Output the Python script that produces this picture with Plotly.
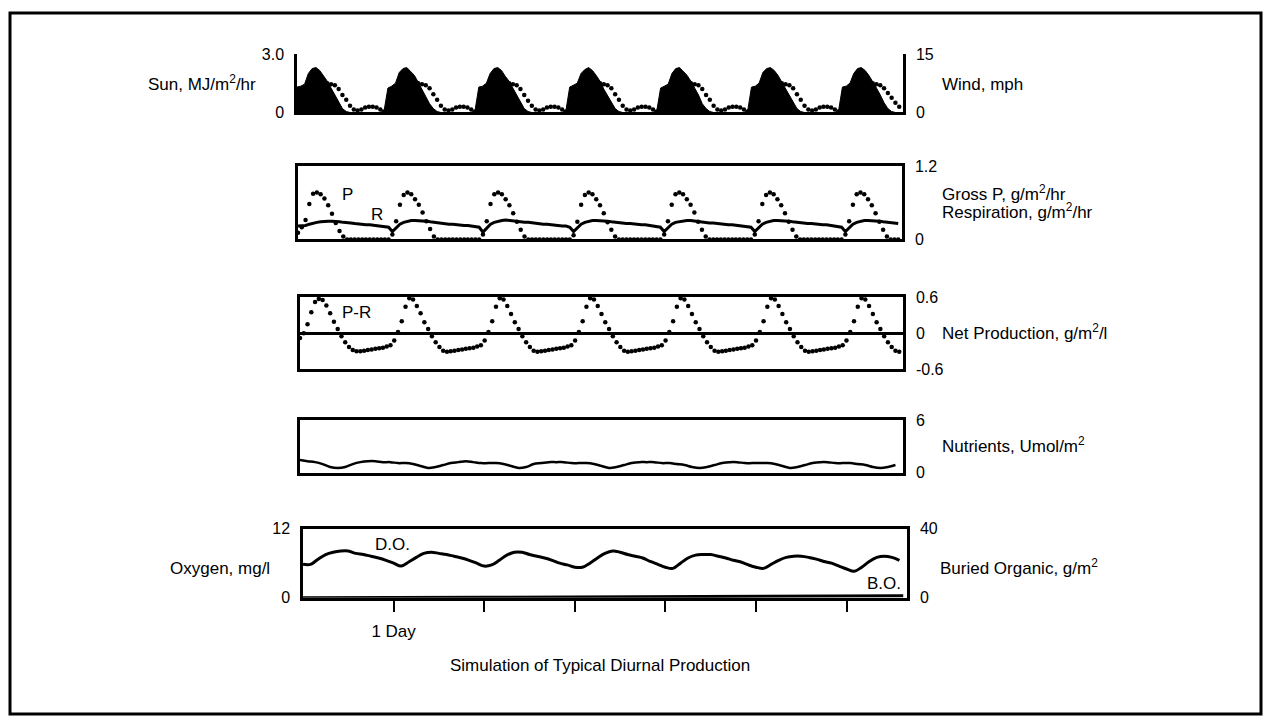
import plotly.graph_objects as go

# ---------------- data (hourly unless noted) ----------------
hours = list(range(160))

sun = [
    1.30, 1.35, 1.45, 2.00, 2.25, 2.30, 2.15, 1.90, 1.60, 1.25, 0.90, 0.50, 0.20, 0.05, 0, 0, 0, 0, 0, 0, 0, 0, 0, 0.10,
    1.25, 1.35, 1.50, 2.05, 2.25, 2.30, 2.10, 1.90, 1.55, 1.20, 0.85, 0.45, 0.20, 0.05, 0, 0, 0, 0, 0, 0, 0, 0, 0, 0.10,
    1.30, 1.35, 1.50, 2.00, 2.25, 2.30, 2.15, 1.85, 1.60, 1.25, 0.90, 0.50, 0.20, 0.05, 0, 0, 0, 0, 0, 0, 0, 0, 0, 0.10,
    1.30, 1.40, 1.50, 2.00, 2.20, 2.30, 2.15, 1.90, 1.60, 1.20, 0.85, 0.50, 0.20, 0.05, 0, 0, 0, 0, 0, 0, 0, 0, 0, 0.10,
    1.25, 1.35, 1.45, 2.00, 2.25, 2.30, 2.10, 1.90, 1.60, 1.25, 0.90, 0.45, 0.20, 0.05, 0, 0, 0, 0, 0, 0, 0, 0, 0, 0.10,
    1.30, 1.35, 1.50, 2.05, 2.25, 2.30, 2.15, 1.90, 1.55, 1.25, 0.85, 0.50, 0.20, 0.05, 0, 0, 0, 0, 0, 0, 0, 0, 0, 0.10,
    1.30, 1.35, 1.50, 2.00, 2.25, 2.30, 2.15, 1.90, 1.60, 1.25, 0.90, 0.50, 0.20, 0.05, 0, 0,
]

wind = [
    0.75, 2.0, 3.5, 5.0, 6.0, 6.75, 7.25, 7.5, 7.5, 7.25, 7.0, 6.0, 4.5, 3.25, 1.75, 0.75, 0.5, 0.75, 1.25, 1.5, 1.5, 1.25, 0.75, 0.25,
    0.75, 2.0, 3.5, 5.0, 6.0, 6.75, 7.25, 7.5, 7.5, 7.25, 7.0, 6.2, 4.7, 3.25, 1.75, 0.75, 0.5, 0.75, 1.25, 1.5, 1.5, 1.25, 0.75, 0.25,
    0.75, 2.0, 3.5, 5.0, 6.0, 6.75, 7.25, 7.5, 7.5, 7.25, 7.0, 6.0, 4.5, 3.0, 1.75, 0.75, 0.5, 0.75, 1.25, 1.5, 1.5, 1.25, 0.75, 0.25,
    0.75, 2.0, 3.5, 5.0, 6.0, 6.75, 7.25, 7.5, 7.5, 7.25, 7.0, 6.2, 4.7, 3.25, 1.75, 0.75, 0.5, 0.75, 1.25, 1.5, 1.5, 1.25, 0.75, 0.25,
    0.75, 2.0, 3.5, 5.0, 6.0, 6.75, 7.25, 7.5, 7.5, 7.25, 7.0, 6.0, 4.5, 3.25, 1.75, 0.75, 0.5, 0.75, 1.25, 1.5, 1.5, 1.25, 0.75, 0.25,
    0.75, 2.0, 3.5, 5.0, 6.0, 6.75, 7.25, 7.5, 7.5, 7.25, 7.0, 6.2, 4.7, 3.25, 1.75, 0.75, 0.5, 0.75, 1.25, 1.5, 1.5, 1.25, 0.75, 0.25,
    0.75, 2.0, 3.5, 5.0, 6.0, 6.75, 7.25, 7.5, 7.5, 7.25, 7.0, 6.2, 5.0, 3.75, 2.5, 1.5,
]

gross_p = [
    0.11, 0.20, 0.32, 0.58, 0.75, 0.77, 0.74, 0.67, 0.56, 0.42, 0.27, 0.14, 0.05, 0, 0, 0, 0, 0, 0, 0, 0, 0, 0, 0,
    0.00, 0.08, 0.30, 0.57, 0.73, 0.77, 0.74, 0.66, 0.57, 0.44, 0.30, 0.17, 0.05, 0, 0, 0, 0, 0, 0, 0, 0, 0, 0, 0,
    0.00, 0.08, 0.30, 0.58, 0.74, 0.77, 0.74, 0.66, 0.56, 0.43, 0.29, 0.16, 0.05, 0, 0, 0, 0, 0, 0, 0, 0, 0, 0, 0,
    0.00, 0.07, 0.29, 0.57, 0.73, 0.77, 0.74, 0.66, 0.56, 0.43, 0.28, 0.16, 0.05, 0, 0, 0, 0, 0, 0, 0, 0, 0, 0, 0,
    0.00, 0.08, 0.30, 0.57, 0.74, 0.77, 0.74, 0.66, 0.57, 0.44, 0.29, 0.16, 0.05, 0, 0, 0, 0, 0, 0, 0, 0, 0, 0, 0,
    0.00, 0.08, 0.30, 0.58, 0.73, 0.77, 0.74, 0.66, 0.56, 0.43, 0.29, 0.16, 0.05, 0, 0, 0, 0, 0, 0, 0, 0, 0, 0, 0,
    0.00, 0.08, 0.30, 0.57, 0.74, 0.77, 0.74, 0.66, 0.56, 0.43, 0.29, 0.16, 0.05, 0, 0, 0,
]

respiration = [
    0.22, 0.22, 0.23, 0.25, 0.27, 0.28, 0.29, 0.30, 0.30, 0.30, 0.30, 0.29, 0.28, 0.28, 0.27, 0.26, 0.25, 0.25, 0.24, 0.24, 0.23, 0.23, 0.22, 0.21,
    0.20, 0.13, 0.19, 0.25, 0.28, 0.30, 0.31, 0.31, 0.31, 0.30, 0.30, 0.29, 0.28, 0.27, 0.27, 0.26, 0.25, 0.25, 0.24, 0.24, 0.23, 0.23, 0.22, 0.21,
    0.20, 0.12, 0.18, 0.25, 0.28, 0.30, 0.31, 0.32, 0.31, 0.30, 0.30, 0.29, 0.28, 0.28, 0.27, 0.26, 0.26, 0.25, 0.25, 0.24, 0.24, 0.23, 0.22, 0.22,
    0.20, 0.13, 0.19, 0.25, 0.28, 0.30, 0.31, 0.31, 0.31, 0.30, 0.30, 0.29, 0.28, 0.28, 0.27, 0.26, 0.26, 0.25, 0.25, 0.24, 0.24, 0.23, 0.22, 0.22,
    0.20, 0.13, 0.19, 0.25, 0.28, 0.29, 0.31, 0.31, 0.31, 0.30, 0.29, 0.29, 0.28, 0.27, 0.27, 0.26, 0.25, 0.25, 0.24, 0.24, 0.23, 0.23, 0.22, 0.21,
    0.20, 0.13, 0.19, 0.25, 0.28, 0.30, 0.31, 0.31, 0.31, 0.30, 0.30, 0.29, 0.28, 0.28, 0.27, 0.26, 0.26, 0.25, 0.25, 0.24, 0.24, 0.23, 0.22, 0.21,
    0.20, 0.13, 0.19, 0.25, 0.28, 0.30, 0.31, 0.31, 0.31, 0.30, 0.30, 0.29, 0.28, 0.28, 0.27, 0.26,
]

net_production = [
    -0.08, 0.00, 0.15, 0.35, 0.52, 0.57, 0.55, 0.46, 0.33, 0.19, 0.07, -0.05, -0.15, -0.23, -0.28, -0.30, -0.30, -0.29, -0.28, -0.27, -0.26, -0.25, -0.24, -0.22,
    -0.20, -0.12, 0.02, 0.20, 0.44, 0.58, 0.56, 0.45, 0.33, 0.18, 0.07, -0.05, -0.15, -0.23, -0.29, -0.31, -0.30, -0.29, -0.28, -0.27, -0.26, -0.25, -0.24, -0.22,
    -0.20, -0.12, 0.02, 0.20, 0.44, 0.58, 0.56, 0.45, 0.32, 0.18, 0.07, -0.05, -0.15, -0.23, -0.29, -0.31, -0.30, -0.29, -0.28, -0.27, -0.26, -0.25, -0.24, -0.22,
    -0.20, -0.12, 0.02, 0.20, 0.44, 0.58, 0.56, 0.45, 0.32, 0.18, 0.07, -0.05, -0.15, -0.23, -0.29, -0.31, -0.30, -0.29, -0.28, -0.27, -0.26, -0.25, -0.24, -0.22,
    -0.20, -0.12, 0.02, 0.20, 0.44, 0.58, 0.56, 0.45, 0.32, 0.18, 0.07, -0.05, -0.15, -0.23, -0.29, -0.31, -0.30, -0.29, -0.28, -0.27, -0.26, -0.25, -0.24, -0.22,
    -0.20, -0.12, 0.02, 0.20, 0.44, 0.58, 0.56, 0.45, 0.32, 0.18, 0.07, -0.05, -0.15, -0.23, -0.29, -0.31, -0.30, -0.29, -0.28, -0.27, -0.26, -0.25, -0.24, -0.22,
    -0.20, -0.12, 0.02, 0.20, 0.44, 0.58, 0.56, 0.45, 0.32, 0.18, 0.07, -0.05, -0.15, -0.23, -0.29, -0.31,
]

# two-hourly series
hours2 = list(range(0, 160, 2))

nutrients = [
    1.45, 1.33, 1.22, 1.00, 0.67, 0.56, 0.67, 1.00, 1.22, 1.33, 1.33, 1.22,
    1.22, 1.11, 1.11, 1.00, 0.78, 0.56, 0.67, 0.89, 1.11, 1.22, 1.33, 1.22,
    1.11, 1.11, 1.11, 1.00, 0.78, 0.56, 0.67, 1.00, 1.11, 1.22, 1.22, 1.22,
    1.11, 1.11, 1.11, 1.00, 0.78, 0.56, 0.67, 0.89, 1.11, 1.22, 1.22, 1.22,
    1.11, 1.11, 1.00, 0.89, 0.67, 0.56, 0.67, 0.89, 1.11, 1.22, 1.22, 1.11,
    1.11, 1.11, 1.11, 1.00, 0.78, 0.56, 0.67, 0.89, 1.11, 1.22, 1.22, 1.11,
    1.11, 1.11, 1.00, 0.89, 0.67, 0.56, 0.67, 0.89,
]

dissolved_oxygen = [
    5.8, 5.8, 6.7, 7.5, 7.9, 8.1, 8.1, 7.7, 7.5, 7.2, 6.9, 6.5,
    6.0, 5.5, 6.2, 7.0, 7.7, 7.9, 7.7, 7.5, 7.2, 6.9, 6.5, 6.0,
    5.5, 5.7, 6.5, 7.4, 7.9, 7.9, 7.5, 7.2, 6.9, 6.5, 6.0, 5.7,
    5.3, 5.3, 6.0, 6.9, 7.7, 8.1, 7.9, 7.5, 7.2, 6.9, 6.3, 5.8,
    5.3, 5.1, 6.0, 6.9, 7.4, 7.5, 7.5, 7.2, 6.9, 6.5, 6.2, 5.7,
    5.3, 5.1, 5.8, 6.5, 7.0, 7.2, 7.2, 7.0, 6.7, 6.3, 6.0, 5.5,
    5.0, 4.6, 5.3, 6.3, 7.0, 7.2, 7.0, 6.5,
]

bo_hours = [0, 24, 48, 72, 96, 120, 144, 159]
buried_organic = [0.0, 0.0, 0.3, 0.5, 0.7, 0.9, 1.1, 1.2]

# ---------------- layout helpers ----------------
W, H = 1265, 726
FONT = "Liberation Sans, Arial, Helvetica, sans-serif"


def fx(px):
    return px / W


def fy(py):
    return 1 - py / H


# panel pixel boxes: (left, right, top, bottom)
P1 = (297, 903, 47, 107)
P2 = (298, 902, 162, 237)
P3 = (300, 903, 296, 370)
P4 = (300, 903, 422, 476)
P5 = (303, 907, 533, 604)

fig = go.Figure()

fig.add_trace(go.Scatter(x=hours, y=sun, mode="lines", fill="tozeroy",
                         line=dict(color="black", width=1), fillcolor="black",
                         xaxis="x", yaxis="y", showlegend=False))
fig.add_trace(go.Scatter(x=hours, y=wind, mode="markers",
                         marker=dict(color="black", size=4.5),
                         xaxis="x", yaxis="y2", showlegend=False))
fig.add_trace(go.Scatter(x=hours, y=gross_p, mode="markers",
                         marker=dict(color="black", size=4.5),
                         xaxis="x2", yaxis="y3", showlegend=False))
fig.add_trace(go.Scatter(x=hours, y=respiration, mode="lines",
                         line=dict(color="black", width=3),
                         xaxis="x2", yaxis="y3", showlegend=False))
fig.add_trace(go.Scatter(x=hours, y=net_production, mode="markers",
                         marker=dict(color="black", size=4.5),
                         xaxis="x3", yaxis="y4", showlegend=False))
fig.add_trace(go.Scatter(x=hours2, y=nutrients, mode="lines",
                         line=dict(color="black", width=2.5, shape="spline"),
                         xaxis="x4", yaxis="y5", showlegend=False))
fig.add_trace(go.Scatter(x=hours2, y=dissolved_oxygen, mode="lines",
                         line=dict(color="black", width=3, shape="spline"),
                         xaxis="x5", yaxis="y6", showlegend=False))
fig.add_trace(go.Scatter(x=bo_hours, y=buried_organic, mode="lines",
                         line=dict(color="black", width=3),
                         xaxis="x5", yaxis="y7", showlegend=False))

tickfont = dict(family=FONT, size=16, color="black")


def xax(box, anchor, mirror=True, **kw):
    d = dict(domain=[fx(box[0]), fx(box[1])], range=[0, 160], anchor=anchor,
             showgrid=False, zeroline=False, showline=True, linecolor="black",
             linewidth=2.5, mirror=mirror, ticks="", showticklabels=False)
    d.update(kw)
    return d


def yax(box, anchor, rng, tv, tt, side="left", **kw):
    d = dict(domain=[fy(box[3]), fy(box[2])], range=rng, anchor=anchor, side=side,
             showgrid=False, zeroline=False, showline=True, linecolor="black",
             linewidth=2.5, mirror=True, ticks="", tickvals=tv, ticktext=tt,
             tickfont=tickfont, ticklabelstandoff=7)
    d.update(kw)
    return d


fig.update_layout(
    width=W, height=H, margin=dict(l=0, r=0, t=0, b=0),
    paper_bgcolor="white", plot_bgcolor="white", showlegend=False,
    hovermode=False,
    xaxis=xax(P1, "y", mirror=False),
    xaxis2=xax(P2, "y3"),
    xaxis3=xax(P3, "y4"),
    xaxis4=xax(P4, "y5"),
    xaxis5=xax(P5, "y6", ticks="outside", ticklen=11, tickwidth=2, tickcolor="black",
               tickvals=[24, 48, 72, 96, 120, 144],
               ticktext=["1 Day", "", "", "", "", ""], showticklabels=True,
               tickfont=dict(family=FONT, size=17, color="black"), ticklabelstandoff=5),
    yaxis=yax(P1, "x", [0, 3], [0, 3], ["0", "3.0"]),
    yaxis2=yax(P1, "x", [0, 15], [0, 15], ["0", "15"], side="right", overlaying="y"),
    yaxis3=yax(P2, "x2", [0, 1.2], [0, 1.2], ["0", "1.2"], side="right"),
    yaxis4=yax(P3, "x3", [-0.6, 0.6], [-0.6, 0, 0.6], ["-0.6", "0", "0.6"], side="right",
               zeroline=True, zerolinecolor="black", zerolinewidth=3),
    yaxis5=yax(P4, "x4", [0, 6], [0, 6], ["0", "6"], side="right"),
    yaxis6=yax(P5, "x5", [0, 12], [0, 12], ["0", "12"]),
    yaxis7=yax(P5, "x5", [0, 40], [0, 40], ["0", "40"], side="right", overlaying="y6"),
)

# outer frame
fig.add_shape(type="rect", xref="paper", yref="paper",
              x0=fx(10), x1=fx(1261), y0=fy(723), y1=fy(5),
              line=dict(color="black", width=3), fillcolor="rgba(0,0,0,0)")

labels = [
    ("Sun, MJ/m<sup>2</sup>/hr", 258, 77, "right"),
    ("Wind, mph", 940, 78, "left"),
    ("Gross P, g/m<sup>2</sup>/hr", 940, 189, "left"),
    ("Respiration, g/m<sup>2</sup>/hr", 940, 208, "left"),
    ("Net Production, g/m<sup>2</sup>/l", 940, 332, "left"),
    ("Nutrients, Umol/m<sup>2</sup>", 940, 447, "left"),
    ("Oxygen, mg/l", 272, 574, "right"),
    ("Buried Organic, g/m<sup>2</sup>", 938, 572, "left"),
    ("Simulation of Typical Diurnal Production", 600, 673, "center"),
    ("P", 347, 191, "center"),
    ("R", 377, 211, "center"),
    ("P-R", 356, 312, "center"),
    ("D.O.", 392, 549, "center"),
    ("B.O.", 884, 589, "center"),
]
for text, x, y, anchor in labels:
    fig.add_annotation(text=text, x=fx(x), y=fy(y), xref="paper", yref="paper",
                       xanchor=anchor, yanchor="middle", showarrow=False,
                       font=dict(family=FONT, size=17, color="black"))

# remove the default 8px page margin so the figure fills the window exactly
fig.write_html("out.html",
               config={"displayModeBar": False},
               post_script="document.body.style.margin='0px';"
                           "document.body.style.overflow='hidden';")
